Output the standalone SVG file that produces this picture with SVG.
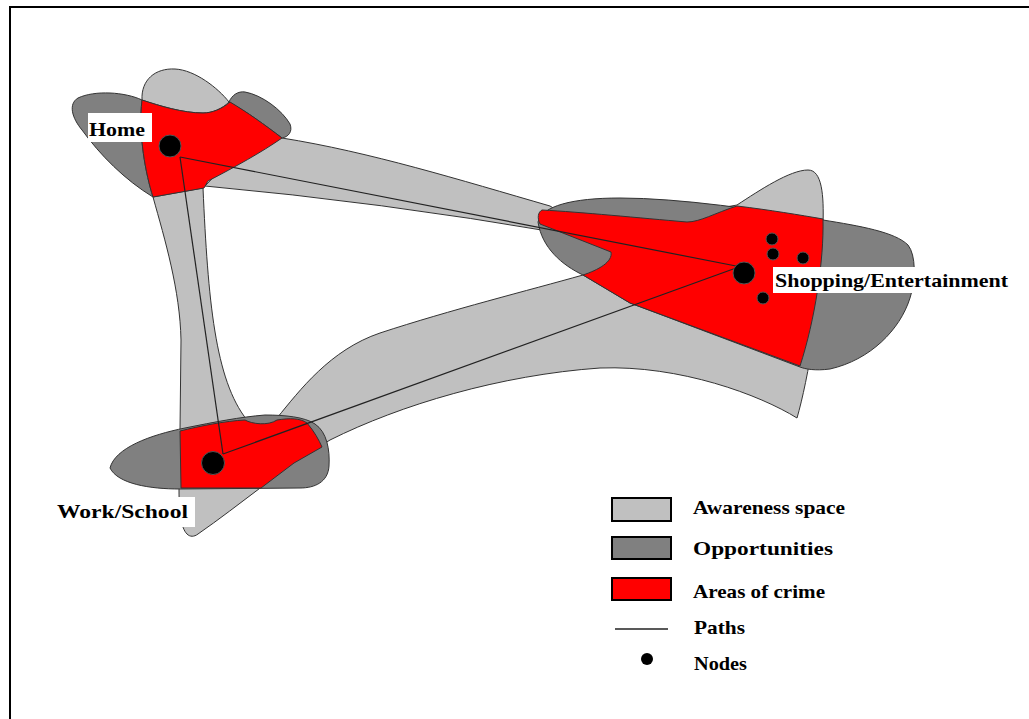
<svg xmlns="http://www.w3.org/2000/svg" width="1029" height="719" viewBox="0 0 1029 719">
<style>
.aw{fill:#c0c0c0;stroke:#333;stroke-width:1}
.op{fill:#808080;stroke:#333;stroke-width:1}
.cr{fill:#ff0000;stroke:#333;stroke-width:1}
.path{fill:none;stroke:#222;stroke-width:1.2}
.node{fill:#000;stroke:#555;stroke-width:1}
.lbl{font-family:"Liberation Serif","Times New Roman",serif;font-weight:bold;font-size:19px;fill:#000}
.box{fill:#fff}
.lg{stroke:#000;stroke-width:2}
</style>
<rect x="0" y="0" width="1029" height="719" fill="#fff"/>
<path d="M10,719 V7 H1029" fill="none" stroke="#000" stroke-width="2"/>

<g id="awareness">
<path class="aw" d="M153,197 C165,240 180,290 181,340 L180,430 L179,490 C179,512 181,528 187,534 C190,537 194,537 198,534 C240,505 280,470 330,440 C400,405 500,375 600,368 C680,365 760,395 797,418 C808,380 822,300 823,225 C824,195 822,170 808,170 C790,170 760,190 737,205 L600,230 L583,275 C530,290 450,310 380,333 C330,350 300,390 277,418 L262,432 L247,420 C215,380 208,300 203,188 Z"/>
<path class="aw" d="M250,125 L282,138 C370,152 460,180 550,206 L560,212 L560,233 Q380,202 205,186 L230,160 Z"/>
<path class="aw" d="M142,100 C141,80 155,68 175,69 C195,70 218,88 229,102 C222,109 212,113 203,113 C183,113 160,106 142,100 Z"/>
</g>

<g id="opportunities">
<path class="op" d="M142,100 C125,92 95,90 78,98 C68,104 72,118 82,130 C100,155 125,180 153,197 C146,175 138,135 142,100 Z"/>
<path class="op" d="M229,102 C232,95 238,91 245,92 C262,95 282,110 290,124 C293,132 288,137 282,138 C265,125 247,112 229,102 Z"/>
<path class="op" d="M538,222 C542,206 572,198 620,198 C680,198 760,210 823,220 C860,226 895,232 908,245 C916,255 916,280 910,298 C900,330 870,360 830,369 C815,371 805,369 800,367 L630,303 L583,275 C562,265 542,248 538,222 Z"/>
<path class="op" d="M110,468 C115,448 150,435 185,428 C215,422 240,417 265,415 C285,415 305,417 315,424 C327,432 330,450 329,466 C328,482 315,488 300,488 L180,489 C150,489 118,484 110,468 Z"/>
</g>

<g id="crime">
<path class="cr" d="M142,100 C160,106 183,113 203,113 C212,113 222,109 230,102 C247,112 265,125 282,138 C262,152 235,167 208,181 L204,188 L153,197 C146,175 138,135 142,100 Z"/>
<path class="cr" d="M542,210 C580,212 640,218 687,222 C700,222 715,213 737,206 C770,210 800,215 823,219 C824,260 815,320 800,366 L630,303 L583,275 C598,270 613,262 611,252 L540,224 C537,218 538,212 542,210 Z"/>
<path class="cr" d="M180,431 C200,426 225,421 245,420 C252,424 268,426 277,420 C290,418 300,418 307,423 C314,431 319,440 322,447 L294,463 L261,488 L181,488 Z"/>
</g>

<g id="connectors">
<path class="path" d="M180,157 L736,266"/>
<path class="path" d="M180,157 L223,454"/>
<path class="path" d="M223,454 L736,268"/>
</g>

<g id="node-home">
<circle class="node" cx="170" cy="146" r="11"/>
<rect class="box" x="88" y="113" width="64" height="29"/>
<text class="lbl" x="89" y="136" textLength="56" lengthAdjust="spacingAndGlyphs">Home</text>
</g>

<g id="node-shopping">
<circle class="node" cx="744" cy="273" r="11"/>
<circle class="node" cx="772" cy="239" r="6"/>
<circle class="node" cx="773" cy="254" r="6"/>
<circle class="node" cx="803" cy="258" r="6"/>
<circle class="node" cx="763" cy="298" r="6"/>
<rect class="box" x="773" y="267" width="142" height="26"/>
<text class="lbl" x="775" y="287" textLength="233" lengthAdjust="spacingAndGlyphs">Shopping/Entertainment</text>
</g>

<g id="node-work">
<circle class="node" cx="213" cy="463" r="11.5"/>
<rect class="box" x="57" y="497" width="138" height="30"/>
<text class="lbl" x="57" y="518" textLength="131" lengthAdjust="spacingAndGlyphs">Work/School</text>
</g>

<g id="legend">
<rect class="lg" x="612" y="498" width="59" height="23" fill="#c0c0c0"/>
<rect class="lg" x="612" y="537" width="59" height="22" fill="#808080"/>
<rect class="lg" x="612" y="578" width="59" height="22" fill="#ff0000"/>
<line x1="615" y1="629" x2="668" y2="629" stroke="#222" stroke-width="1.5"/>
<circle cx="647" cy="659" r="6" fill="#000"/>
<text class="lbl" x="693" y="514" textLength="152" lengthAdjust="spacingAndGlyphs">Awareness space</text>
<text class="lbl" x="693" y="555" textLength="140" lengthAdjust="spacingAndGlyphs">Opportunities</text>
<text class="lbl" x="693" y="598" textLength="132" lengthAdjust="spacingAndGlyphs">Areas of crime</text>
<text class="lbl" x="694" y="634" textLength="51" lengthAdjust="spacingAndGlyphs">Paths</text>
<text class="lbl" x="694" y="670" textLength="53" lengthAdjust="spacingAndGlyphs">Nodes</text>
</g>
</svg>
